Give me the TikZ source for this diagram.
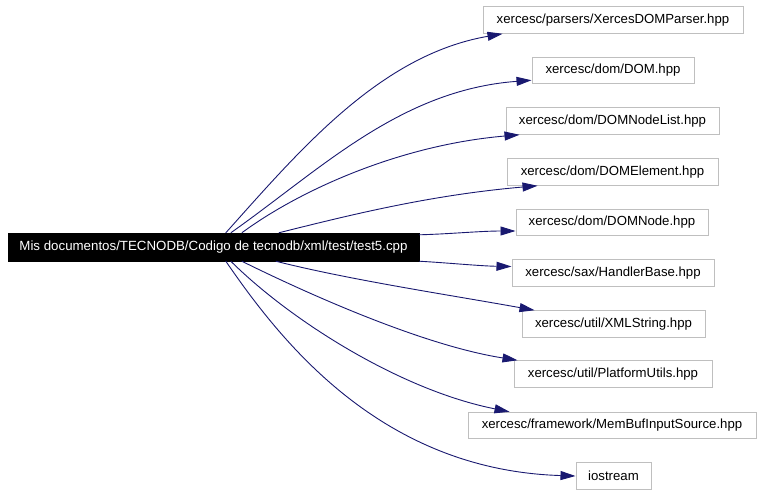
\documentclass[tikz,border=0pt]{standalone}
\usepackage{fontspec}
\setmainfont{Liberation Sans}
\usetikzlibrary{arrows.meta}
\definecolor{edgeblue}{HTML}{191970}
\definecolor{boxgray}{HTML}{BFBFBF}
\begin{document}
\begin{tikzpicture}[x=1pt,y=-1pt,
  filebox/.style={draw=boxgray,line width=1pt,inner sep=0pt,minimum height=26.5pt,
    font=\fontsize{13.2}{15}\selectfont,text=black},
  mainbox/.style={fill=black,draw=black,inner sep=0pt,minimum width=411pt,minimum height=28pt,
    font=\fontsize{13.3}{15}\selectfont,text=white},
  edge/.style={draw=edgeblue,line width=0.9pt,-{Triangle[length=15pt,width=9pt]}}]
\useasboundingbox (0,0) rectangle (763,496);
\node[mainbox] (m) at (213.5,247) {Mis documentos/TECNODB/Codigo de tecnodb/xml/test/test5.cpp};
\node[filebox,minimum width=260pt] (p1) at (613,20) {xercesc/parsers/XercesDOMParser.hpp};
\node[filebox,minimum width=162pt] (p2) at (613,70.5) {xercesc/dom/DOM.hpp};
\node[filebox,minimum width=213pt] (p3) at (612.5,121) {xercesc/dom/DOMNodeList.hpp};
\node[filebox,minimum width=211pt] (p4) at (612.5,172) {xercesc/dom/DOMElement.hpp};
\node[filebox,minimum width=192pt] (p5) at (612,222.5) {xercesc/dom/DOMNode.hpp};
\node[filebox,minimum width=202pt] (p6) at (613,273) {xercesc/sax/HandlerBase.hpp};
\node[filebox,minimum width=183pt] (p7) at (613.5,324) {xercesc/util/XMLString.hpp};
\node[filebox,minimum width=198pt] (p8) at (613,374) {xercesc/util/PlatformUtils.hpp};
\node[filebox,minimum width=288pt] (p9) at (612,425.5) {xercesc/framework/MemBufInputSource.hpp};
\node[filebox,minimum width=75pt] (p10) at (613.5,476) {iostream};
% edges
\draw[edge] ([xshift=218pt]m.north west) .. controls (300,150) and (380,55) .. ([xshift=20pt]p1.south west);
\draw[edge] ([xshift=223pt]m.north west) .. controls (320,170) and (400,90) .. ([yshift=4pt]p2.south west);
\draw[edge] ([xshift=234pt]m.north west) .. controls (300,190) and (400,145) .. ([xshift=14pt]p3.south west);
\draw[edge] ([xshift=271pt]m.north west) .. controls (350,215) and (430,195) .. ([xshift=31pt]p4.south west);
\draw[edge] ([yshift=-2pt]m.north east) .. controls (450,234) and (480,231) .. ([yshift=-8.5pt]p5.west);
\draw[edge] (m.south east) .. controls (450,263) and (480,266) .. ([yshift=6.5pt]p6.west);
\draw[edge] ([xshift=268pt]m.south west) .. controls (350,280) and (450,295) .. ([xshift=13pt]p7.north west);
\draw[edge] ([xshift=234pt]m.south west) .. controls (300,290) and (420,345) .. ([xshift=4pt]p8.north west);
\draw[edge] ([xshift=223pt]m.south west) .. controls (290,320) and (400,390) .. ([xshift=42pt]p9.north west);
\draw[edge] ([xshift=218pt]m.south west) .. controls (280,340) and (380,470) .. (p10.west);
\end{tikzpicture}
\end{document}
